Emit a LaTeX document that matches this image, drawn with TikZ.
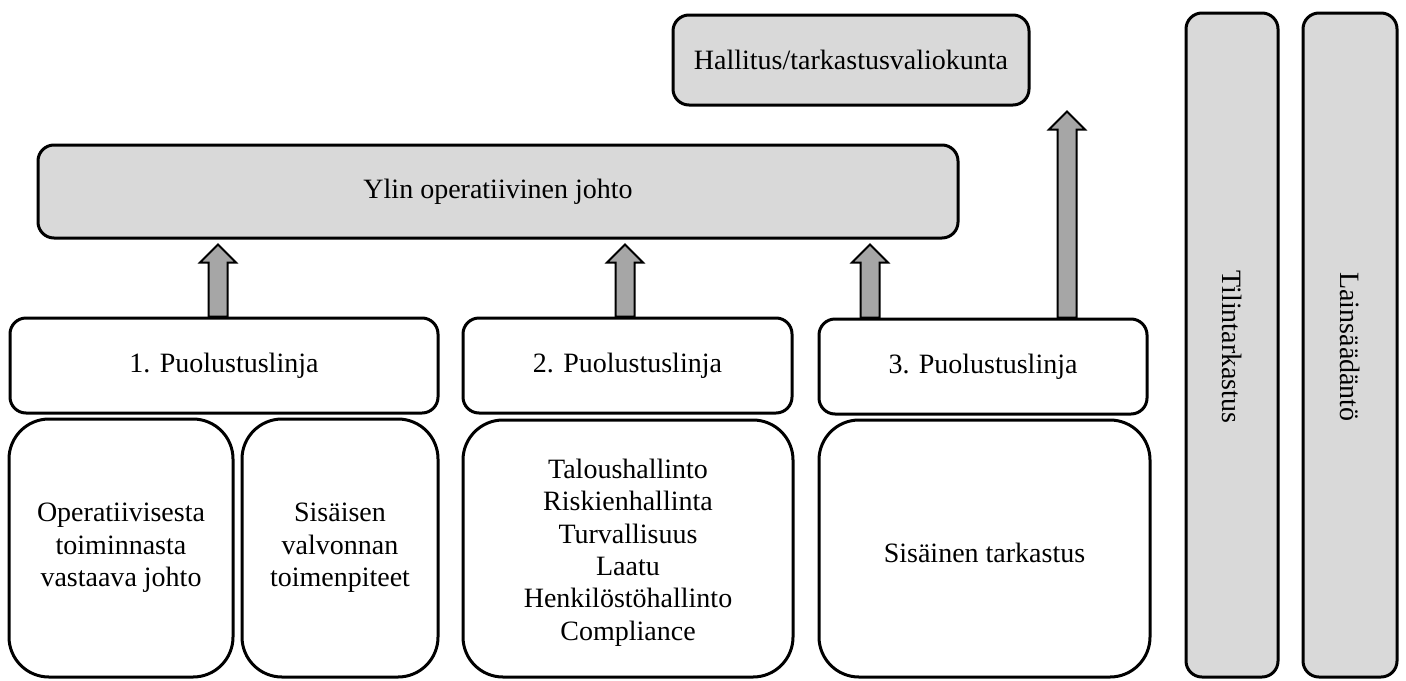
\documentclass[tikz,border=0pt]{standalone}
\usepackage{fontspec}
\setmainfont{Liberation Serif}
\usetikzlibrary{fit,calc}
\definecolor{boxgray}{HTML}{D9D9D9}
\definecolor{arrgray}{HTML}{A6A6A6}
\tikzset{
  base/.style={draw=black, line width=1.5pt, inner sep=0pt, align=center,
    font=\fontsize{14}{16.2}\selectfont},
  graybox/.style={base, fill=boxgray, rounded corners=8pt},
  whitebox/.style={base, fill=white, rounded corners=8pt},
  bigbox/.style={base, fill=white, rounded corners=20pt},
  vbox/.style={base, fill=boxgray, rounded corners=8pt},
  txt/.style={base, draw=none, fill=none},
  blockarrow/.style={draw=black, line width=1pt, fill=arrgray, line join=miter}
}
\newcommand\uparr[3]{%
  \draw[blockarrow] let \p1=(#1,0), \p2=(#2.north), \p3=(#3.south) in
    (\x1-4.75pt,\y2) -- (\x1-4.75pt,\y3-11.5pt) -- (\x1-9pt,\y3-11.5pt)
    -- (\x1,\y3-2.5pt) -- (\x1+9pt,\y3-11.5pt) -- (\x1+4.75pt,\y3-11.5pt)
    -- (\x1+4.75pt,\y2) -- cycle;}
\begin{document}
\begin{tikzpicture}[x=0.5pt,y=-0.5pt]
\useasboundingbox (0,0) rectangle (1406,680);
% top boxes
\node[graybox, fit={(673,15) (1029,105)}] (hal) {};
\node[txt] at (hal.center) {Hallitus/tarkastusvaliokunta};
\node[graybox, fit={(38,145) (958,238)}] (ylin) {};
\node[txt] at (ylin.center) {Ylin operatiivinen johto};
% lines of defence
\node[whitebox, fit={(10,318) (438,413)}] (p1) {};
\node[txt] at (p1.center) {1. Puolustuslinja};
\node[whitebox, fit={(463,318) (792,413)}] (p2) {};
\node[txt] at (p2.center) {2. Puolustuslinja};
\node[whitebox, fit={(819,319) (1147,414)}] (p3) {};
\node[txt] at (p3.center) {3. Puolustuslinja};
% bottom boxes
\node[bigbox, fit={(9,419) (233,677)}] (a) {};
\node[txt] at (a.center) {Operatiivisesta\\toiminnasta\\vastaava johto};
\node[bigbox, fit={(242,419) (438,677)}] (b) {};
\node[txt] at (b.center) {Sisäisen\\valvonnan\\toimenpiteet};
\node[bigbox, fit={(463,420) (793,677)}] (c) {};
\node[txt] at ([yshift=-2pt]c.center) {Taloushallinto\\Riskienhallinta\\Turvallisuus\\Laatu\\Henkilöstöhallinto\\Compliance};
\node[bigbox, fit={(819,420) (1150,677)}] (d) {};
\node[txt] at ([yshift=-2pt]d.center) {Sisäinen tarkastus};
% vertical boxes
\node[vbox, fit={(1186,13) (1278,677)}] (tt) {};
\node[txt, rotate=-90] at ([yshift=-1pt]tt.center) {Tilintarkastus};
\node[vbox, fit={(1303,13) (1397,677)}] (ls) {};
\node[txt, rotate=-90] at ([yshift=-1pt]ls.center) {Lainsäädäntö};
% arrows
\uparr{218}{p1}{ylin}
\uparr{625}{p2}{ylin}
\uparr{870}{p3}{ylin}
\uparr{1067}{p3}{hal}
\end{tikzpicture}
\end{document}
